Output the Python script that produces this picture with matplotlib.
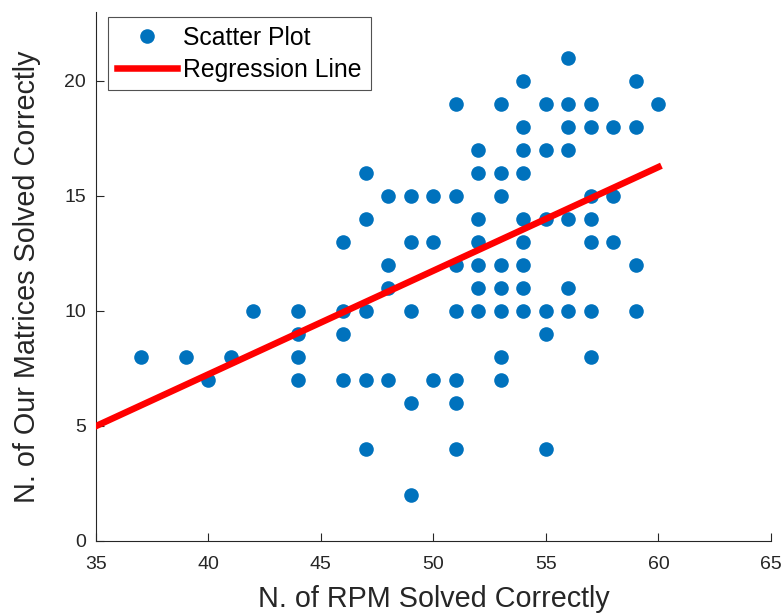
import numpy as np
import matplotlib
matplotlib.use("Agg")
import matplotlib.pyplot as plt

# Data (x = RPM solved, y = our matrices solved)
rpm_solved = (
    [37, 39, 40, 41, 42]
    + [44] * 4 + [46] * 4 + [47] * 5 + [48] * 4 + [49] * 5 + [50] * 3
    + [51] * 7 + [52] * 7 + [53] * 8 + [54] * 9 + [55] * 6 + [56] * 7
    + [57] * 7 + [58] * 3 + [59] * 4 + [60]
)
matrices_solved = (
    [8, 8, 7, 8, 10]
    + [10, 9, 8, 7]
    + [13, 10, 9, 7]
    + [16, 14, 10, 7, 4]
    + [15, 12, 11, 7]
    + [15, 13, 10, 6, 2]
    + [15, 13, 7]
    + [19, 15, 12, 10, 7, 6, 4]
    + [17, 16, 14, 13, 12, 11, 10]
    + [19, 16, 15, 12, 11, 10, 8, 7]
    + [20, 18, 17, 16, 14, 13, 12, 11, 10]
    + [19, 17, 14, 10, 9, 4]
    + [21, 19, 18, 17, 14, 11, 10]
    + [19, 18, 15, 14, 13, 10, 8]
    + [18, 15, 13]
    + [20, 18, 12, 10]
    + [19]
)
# Regression line (y = slope * x + intercept), drawn over x = 35..60
reg_slope = 0.451
reg_intercept = -10.805
reg_x_range = [35, 60]

x_ticks = [35, 40, 45, 50, 55, 60, 65]
y_ticks = [0, 5, 10, 15, 20]

x = np.array(rpm_solved, dtype=float)
y = np.array(matrices_solved, dtype=float)
line_x = np.array(reg_x_range, dtype=float)
line_y = reg_slope * line_x + reg_intercept

plt.rcParams['font.family'] = ['Liberation Sans', 'DejaVu Sans']
dark = '#262626'

W, H = 783, 613
fig = plt.figure(figsize=(W / 100, H / 100), dpi=100)
ax = fig.add_axes([95.7 / W, (H - 540.7) / H, 675.3 / W, 528.7 / H])

ax.plot(x, y, 'o', color='#0072BD', markersize=10.5, markeredgewidth=0,
        label='Scatter Plot', zorder=2)
ax.plot(line_x, line_y, '-', color='#FF0000', linewidth=4.7,
        label='Regression Line', zorder=3)

ax.set_xlim(35, 65)
ax.set_ylim(0, 23)
ax.set_xticks(x_ticks)
ax.set_yticks(y_ticks)
for s in ['top', 'right']:
    ax.spines[s].set_visible(False)
for s in ['left', 'bottom']:
    ax.spines[s].set_color(dark)
    ax.spines[s].set_linewidth(0.8)
ax.tick_params(direction='in', length=6, width=0.8, colors=dark,
               labelsize=14, labelcolor=dark)
ax.tick_params(axis='x', pad=11)
ax.tick_params(axis='y', pad=7)

ax.set_xlabel('N. of RPM Solved Correctly', fontsize=20.7, color=dark)
ax.set_ylabel('N. of Our Matrices Solved Correctly', fontsize=20.7, color=dark)
ax.xaxis.set_label_coords(0.5, -0.084)
ax.yaxis.set_label_coords(-0.081, 0.5)

leg = ax.legend(loc='upper left', bbox_to_anchor=(108 / W, 1 - 17 / H),
                bbox_transform=fig.transFigure, fontsize=17.8,
                frameon=True, fancybox=False, edgecolor=dark, handlelength=2.45,
                borderpad=0.35, labelspacing=0.33, handletextpad=0.25,
                borderaxespad=0.0)
leg.get_frame().set_linewidth(0.8)
for t in leg.get_texts():
    t.set_color('black')

fig.savefig('out.png', dpi=100)
